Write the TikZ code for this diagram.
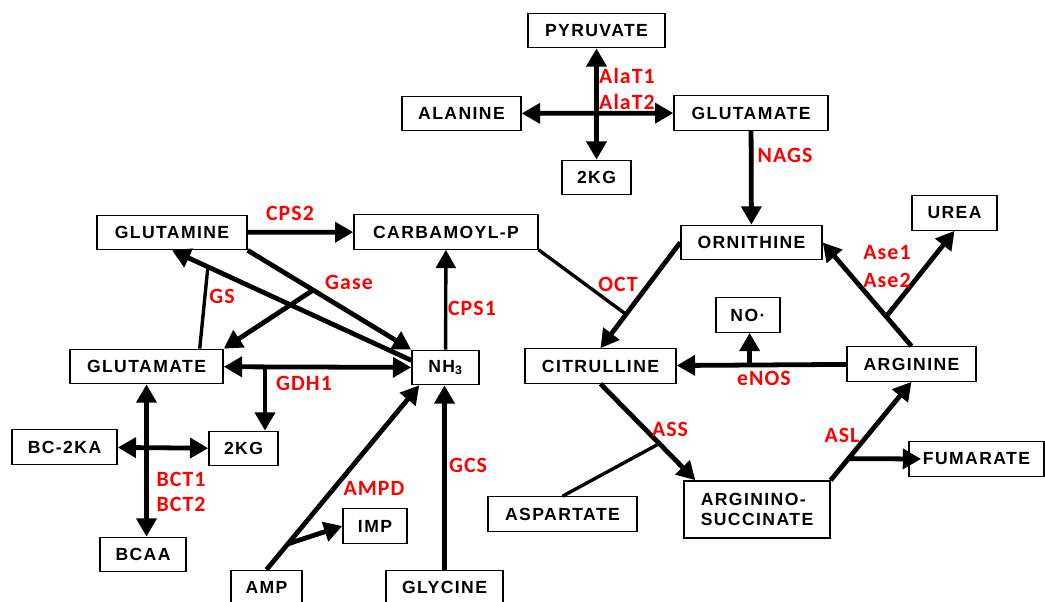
\documentclass[tikz,border=0pt]{standalone}
\usepackage{fontspec}
\setmainfont{Liberation Sans}
\newfontfamily\metfont{Liberation Sans}[LetterSpace=8]
\newfontfamily\enzfont{Carlito}[LetterSpace=5]
\usetikzlibrary{arrows.meta,calc}
\definecolor{enzred}{RGB}{255,0,0}

\begin{document}
\begin{tikzpicture}[x=0.025cm,y=-0.025cm,>={Triangle[length=13pt,width=14pt]},
  met/.style={draw,line width=0.9pt,fill=white,minimum height=0.86cm,inner sep=2pt,
    font=\metfont\bfseries\fontsize{12.5}{14.2}\selectfont},
  enz/.style={text=enzred,inner sep=0pt,font=\enzfont\bfseries\fontsize{15.5}{17}\selectfont},
  thk/.style={line width=3.4pt},
  thn/.style={line width=2.4pt}]
\useasboundingbox (0,0) rectangle (1045,602);
\clip (0,0) rectangle (1045,602);
\node[met,minimum width=3.43cm] (PYR) at (596.5,30.5) {PYRUVATE};
\node[met,minimum width=2.98cm] (ALA) at (461.5,113.5) {ALANINE};
\node[met,minimum width=3.85cm] (GLUt) at (751,113) {GLUTAMATE};
\node[met,minimum width=1.73cm] (KGt) at (596.5,177.5) {2KG};
\node[met,minimum width=3.75cm] (GLN) at (172,232.5) {GLUTAMINE};
\node[met,minimum width=4.6cm] (CARB) at (446,232) {CARBAMOYL-P};
\node[met,minimum width=3.53cm] (ORN) at (751.5,242.5) {ORNITHINE};
\node[met,minimum width=2.13cm] (UREA) at (954.5,213) {UREA};
\node[met,minimum width=1.6cm] (NO) at (748,315) {NO·};
\node[met,minimum width=3.78cm] (CIT) at (600.5,366) {CITRULLINE};
\node[met,minimum width=3.23cm] (ARG) at (911.5,364) {ARGININE};
\node[met,minimum width=3.83cm] (GLUl) at (146.5,366.5) {GLUTAMATE};
\node[met,minimum width=1.68cm] (NH3) at (445.5,367.5) {NH\textsubscript{3}};
\node[met,minimum width=2.63cm] (BCKA) at (64.5,447) {BC-2KA};
\node[met,minimum width=1.73cm] (KGl) at (243.5,448.5) {2KG};
\node[met,minimum width=2.15cm] (BCAA) at (143,554.5) {BCAA};
\node[met,minimum width=1.6cm] (IMP) at (375,526) {IMP};
\node[met,minimum width=1.78cm] (AMP) at (266.5,587.5) {AMP};
\node[met,minimum width=2.93cm] (GLY) at (444.5,587.5) {GLYCINE};
\node[met,minimum width=3.73cm] (ASP) at (562.5,514) {ASPARTATE};
\node[met,minimum width=3.65cm,minimum height=1.43cm,align=left] (ASUC) at (757,509.5) {ARGININO-\\SUCCINATE};
\node[met,minimum width=3.38cm] (FUM) at (976.5,459) {FUMARATE};

\draw[thk,<->] (PYR) -- (KGt);
\draw[thk,<->] (ALA) -- (GLUt);
\draw[thk,->] (GLUt) -- (ORN);
\draw[thk,->] (GLN) -- (CARB);
\draw[thk,->] (GLN.south east) -- coordinate[pos=0.4] (gase) (NH3.north west);
\draw[thk,->] (gase) -- (GLUl.north east);
\draw[thk,->] ($(NH3.north west)!0.3!(NH3.south west)$) -- coordinate[pos=0.85] (gs) (GLN.south);
\draw[thn] ([xshift=1.33cm]GLUl.north) -- (gs);
\draw[thk,<->] (GLUl) -- coordinate[pos=0.22] (gdh) (NH3);
\draw[thk,->] (gdh) -- (gdh |- KGl.north);
\draw[thn,->] (NH3) -- (CARB);
\draw[thk,<->] (GLUl.south) -- (GLUl.south |- BCAA.north);
\draw[thk,<->] (BCKA) -- (KGl);
\draw[thk,->] (AMP.north) -- coordinate[pos=0.14] (ampd) ([xshift=0.2cm]NH3.south west);
\draw[thk,->] (ampd) -- (IMP.west);
\draw[thk,->] (GLY.north) -- (GLY.north |- NH3.south);
\draw[thk,->] (ORN.west) -- coordinate[pos=0.68] (oct) (CIT.north);
\draw[thn] (CARB.south east) -- (oct);
\draw[thk,->] (ARG) -- coordinate[pos=0.57] (enos) (CIT);
\draw[thk,->] (enos) -- (enos |- NO.south);
\draw[thk,->] (ARG.north) -- coordinate[pos=0.285] (ase) (ORN.east);
\draw[thk,->] (ase) -- (UREA.south);
\draw[thk,->] (CIT.south) -- coordinate[pos=0.62] (ass) ([xshift=0.3cm]ASUC.north west);
\draw[thn] (ASP.north) -- (ass);
\draw[thk,->] (ASUC.north east) -- coordinate[pos=0.22] (asl) (ARG.south);
\draw[thk,->] (asl) -- ([xshift=0.32cm]FUM.west);

\node[enz] (alat1) at (627,76) {AlaT1};
\node[enz] (alat2) at (627,102) {AlaT2};
\node[enz] (nags) at (785,155) {NAGS};
\node[enz] (cps2) at (290,213) {CPS2};
\node[enz] (gasel) at (349,282) {Gase};
\node[enz] (gsl) at (222,296) {GS};
\node[enz] (cps1) at (472,308) {CPS1};
\node[enz] (gdh1) at (304,383) {GDH1};
\node[enz] (bct1) at (181,479) {BCT1};
\node[enz] (bct2) at (181,504) {BCT2};
\node[enz] (ampdl) at (374,488) {AMPD};
\node[enz] (gcs) at (468,465) {GCS};
\node[enz] (octl) at (618,284) {OCT};
\node[enz] (ase1) at (887,253) {Ase1};
\node[enz] (ase2) at (887,280) {Ase2};
\node[enz] (enosl) at (764,378) {eNOS};
\node[enz] (assl) at (670,429) {ASS};
\node[enz] (asll) at (842,435) {ASL};
\end{tikzpicture}
\end{document}
